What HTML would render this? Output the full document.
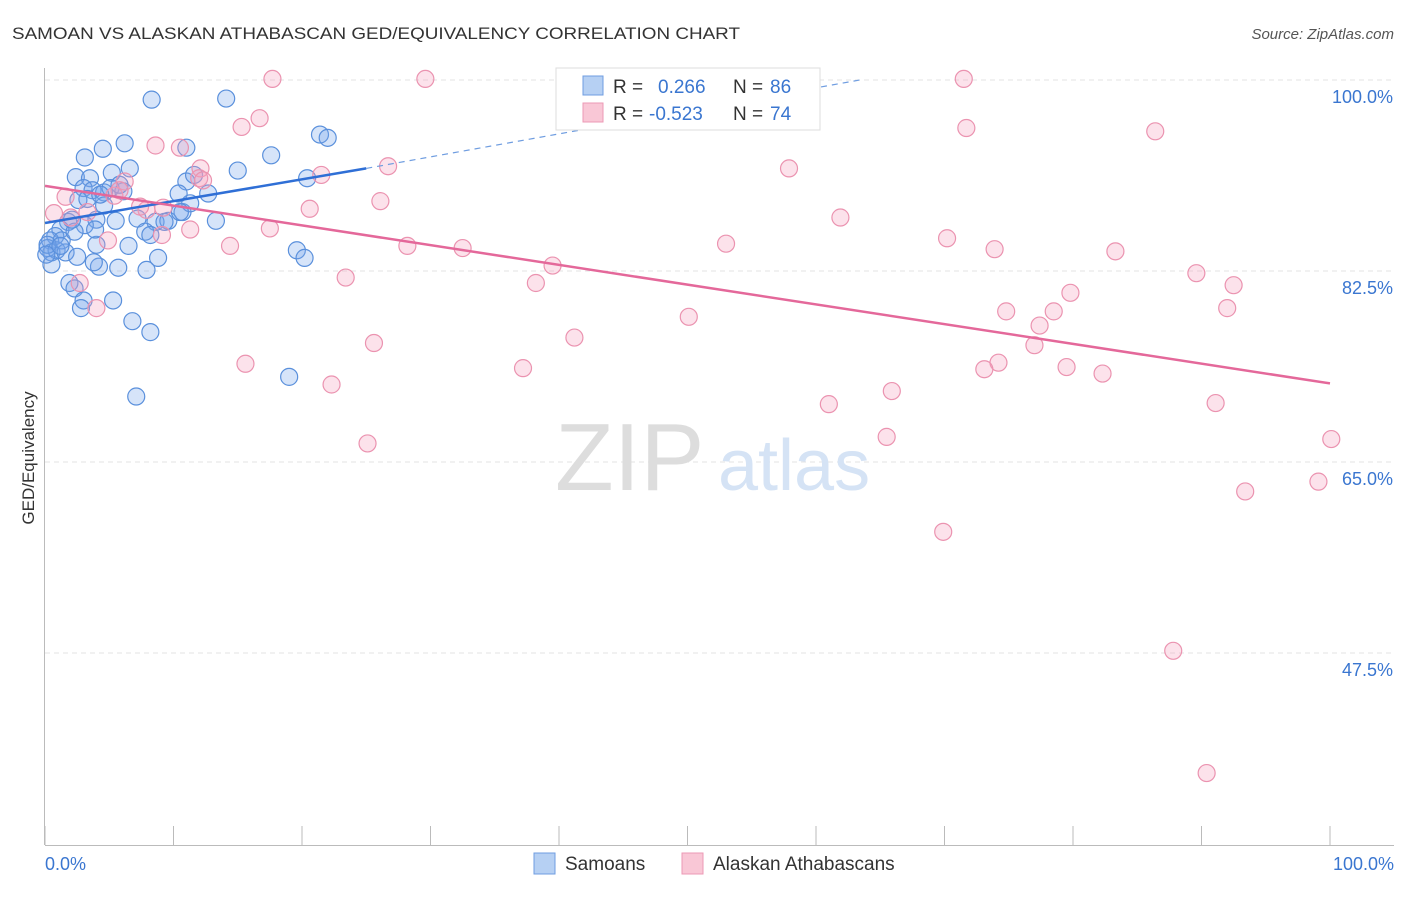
<!DOCTYPE html>
<html><head><meta charset="utf-8"><style>
body{margin:0;background:#fff;font-family:"Liberation Sans",sans-serif;}
svg text{font-family:"Liberation Sans",sans-serif;}
</style></head><body>
<svg id="chart" width="1406" height="892" xmlns="http://www.w3.org/2000/svg">
<text x="12" y="39" font-size="17" fill="#333" textLength="728" lengthAdjust="spacingAndGlyphs">SAMOAN VS ALASKAN ATHABASCAN GED/EQUIVALENCY CORRELATION CHART</text>
<text x="1394" y="39" font-size="15" fill="#555" text-anchor="end" font-style="italic">Source: ZipAtlas.com</text>
<text transform="translate(34,458) rotate(-90)" font-size="17" fill="#333" text-anchor="middle">GED/Equivalency</text>
<g id="grid"></g>
<g id="axes"></g>
<text x="555" y="490" font-size="96" fill="#ddd" font-family="Liberation Serif">ZIP</text>
<text x="718" y="490" font-size="72" fill="#d5e3f5">atlas</text>
<g id="pts"></g>
<g id="lines"></g>
<g>
<rect x="556" y="68" width="264" height="62" fill="#fff" stroke="#ddd"/>
<rect x="583" y="76" width="20" height="19" fill="#b6d0f3" stroke="#6f9de0"/>
<rect x="583" y="103" width="20" height="19" fill="#f9c7d6" stroke="#ec9ab5"/>
<text x="613" y="93" font-size="19" fill="#333">R =</text>
<text x="658" y="93" font-size="19" fill="#3a76d0">0.266</text>
<text x="733" y="93" font-size="19" fill="#333">N =</text>
<text x="770" y="93" font-size="19" fill="#3a76d0">86</text>
<text x="613" y="120" font-size="19" fill="#333">R =</text>
<text x="649" y="120" font-size="19" fill="#3a76d0">-0.523</text>
<text x="733" y="120" font-size="19" fill="#333">N =</text>
<text x="770" y="120" font-size="19" fill="#3a76d0">74</text>
</g>
<g>
<rect x="534" y="853" width="21" height="21" fill="#b6d0f3" stroke="#6f9de0"/>
<text x="565" y="870" font-size="19" fill="#333">Samoans</text>
<rect x="682" y="853" width="21" height="21" fill="#f9c7d6" stroke="#ec9ab5"/>
<text x="713" y="870" font-size="19" fill="#333">Alaskan Athabascans</text>
</g>
</svg>
<script>
const yTicks=[100,82.5,65,47.5];
const blueX=[8.3,14.1,6.2,4.5,3.1,6.6,5.2,2.4,3.5,3.0,3.7,4.6,5.1,6.1,5.8,2.6,3.3,4.6,4.0,1.8,3.1,5.5,7.2,8.6,9.6,1.2,0.8,0.4,0.2,0.5,0.9,1.3,1.6,2.3,4.0,6.5,7.8,8.2,8.8,7.9,5.7,4.2,3.8,2.5,1.9,2.3,3.0,2.8,5.3,6.8,8.2,7.1,19.0,19.6,20.2,17.6,15.0,21.4,22.0,20.4,12.7,13.3,11.0,11.6,10.4,10.7,11.3,11.0,9.3,10.5,0.5,0.2,0.1,1.2,4.3,3.9,2.1];
const blueY=[98.2,98.3,94.2,93.7,92.9,91.9,91.5,91.1,91.0,90.1,89.9,89.7,90.1,89.8,90.4,89.0,89.1,88.5,87.2,87.0,86.7,87.1,87.3,87.0,87.1,86.3,85.7,85.3,84.6,84.2,84.4,85.3,84.2,86.1,84.9,84.8,86.1,85.8,83.7,82.6,82.8,82.9,83.3,83.8,81.4,80.9,79.8,79.1,79.8,77.9,76.9,71.0,72.8,84.4,83.7,93.1,91.7,95.0,94.7,91.0,89.6,87.1,90.7,91.3,89.6,87.9,88.7,93.8,87.0,87.9,83.1,84.9,84.0,84.8,89.5,86.3,87.2];
const pinkX=[17.7,29.6,71.5,16.7,15.3,71.7,86.4,8.6,10.5,12.1,12.0,21.5,26.7,57.9,6.2,5.4,1.6,0.7,3.3,2.0,26.1,20.6,7.9,9.2,61.9,17.5,14.4,4.9,9.1,28.2,32.5,53.0,70.2,73.9,83.3,39.5,23.4,38.2,89.6,92.5,2.7,4.0,50.1,74.8,78.5,79.8,92.0,77.4,25.6,41.2,77.0,15.6,37.2,74.2,73.1,79.5,82.3,22.3,65.9,61.0,91.1,65.5,25.1,100.1,93.4,99.1,69.9,87.8,90.4,12.3,5.8,11.3,7.4];
const pinkY=[100.1,100.1,100.1,96.5,95.7,95.6,95.3,94.0,93.8,91.9,91.0,91.3,92.1,91.9,90.7,89.4,89.3,87.8,87.9,87.4,88.9,88.2,88.1,88.3,87.4,86.4,84.8,85.3,85.8,84.8,84.6,85.0,85.5,84.5,84.3,83.0,81.9,81.4,82.3,81.2,81.4,79.1,78.3,78.8,78.8,80.5,79.1,77.5,75.9,76.4,75.7,74.0,73.6,74.1,73.5,73.7,73.1,72.1,71.5,70.3,70.4,67.3,66.7,67.1,62.3,63.2,58.6,47.7,36.5,90.8,89.9,86.3,88.4];
const blueTrendX=[0,25,63.4];
const blueTrendY=[86.9,91.9,100];
const pinkTrendX=[0,100];
const pinkTrendY=[90.3,72.2];
const NS="http://www.w3.org/2000/svg";
const sx=v=>45+v*12.85;
const sy=v=>80+(100-v)*10.914;
function mk(t,a,p){const e=document.createElementNS(NS,t);for(const k in a)e.setAttribute(k,a[k]);p.appendChild(e);return e;}
const grid=document.getElementById('grid'),axes=document.getElementById('axes');
yTicks.forEach(t=>{
 const l=mk('line',{x1:45,x2:1394,y1:sy(t),y2:sy(t),stroke:'#e3e3e3','stroke-dasharray':'5,4'},grid);
 
 
 const tx=mk('text',{x:1393,y:sy(t)+23,'font-size':18,fill:'#3a76d0','text-anchor':'end'},grid);
 tx.textContent=t.toFixed(1)+'%';
 
 
});
mk('line',{x1:44.5,x2:44.5,y1:68,y2:845,stroke:'#bbb'},axes);
mk('line',{x1:45,x2:1394,y1:845.5,y2:845.5,stroke:'#bbb'},axes);
for(let i=0;i<=10;i++){mk('line',{x1:sx(i*10),x2:sx(i*10),y1:826,y2:845,stroke:'#bbb'},axes);}
const x0=mk('text',{x:45,y:870,'font-size':18,fill:'#3a76d0'},axes);x0.textContent='0.0%';


const x1=mk('text',{x:1394,y:870,'font-size':18,fill:'#3a76d0','text-anchor':'end'},axes);x1.textContent='100.0%';


const pts=document.getElementById('pts');
blueX.forEach((x,i)=>{const c=mk('circle',{cx:sx(x),cy:sy(blueY[i]),r:8.5,fill:'rgba(120,165,235,0.3)',stroke:'#5a90dc','stroke-width':1.2},pts);
 
 });
pinkX.forEach((x,i)=>{const c=mk('circle',{cx:sx(x),cy:sy(pinkY[i]),r:8.5,fill:'rgba(245,160,190,0.3)',stroke:'#eb93b0','stroke-width':1.2},pts);
 
 });
const lines=document.getElementById('lines');
const b1=mk('line',{x1:sx(blueTrendX[0]),y1:sy(blueTrendY[0]),x2:sx(blueTrendX[1]),y2:sy(blueTrendY[1]),stroke:'#2f6fd6','stroke-width':2.5},lines);


const b2=mk('line',{x1:sx(blueTrendX[1]),y1:sy(blueTrendY[1]),x2:sx(blueTrendX[2]),y2:sy(blueTrendY[2]),stroke:'#6f9de0','stroke-width':1.2,'stroke-dasharray':'6,5'},lines);


const p1=mk('line',{x1:sx(pinkTrendX[0]),y1:sy(pinkTrendY[0]),x2:sx(pinkTrendX[1]),y2:sy(pinkTrendY[1]),stroke:'#e4689a','stroke-width':2.5},lines);


</script>
</body></html>
